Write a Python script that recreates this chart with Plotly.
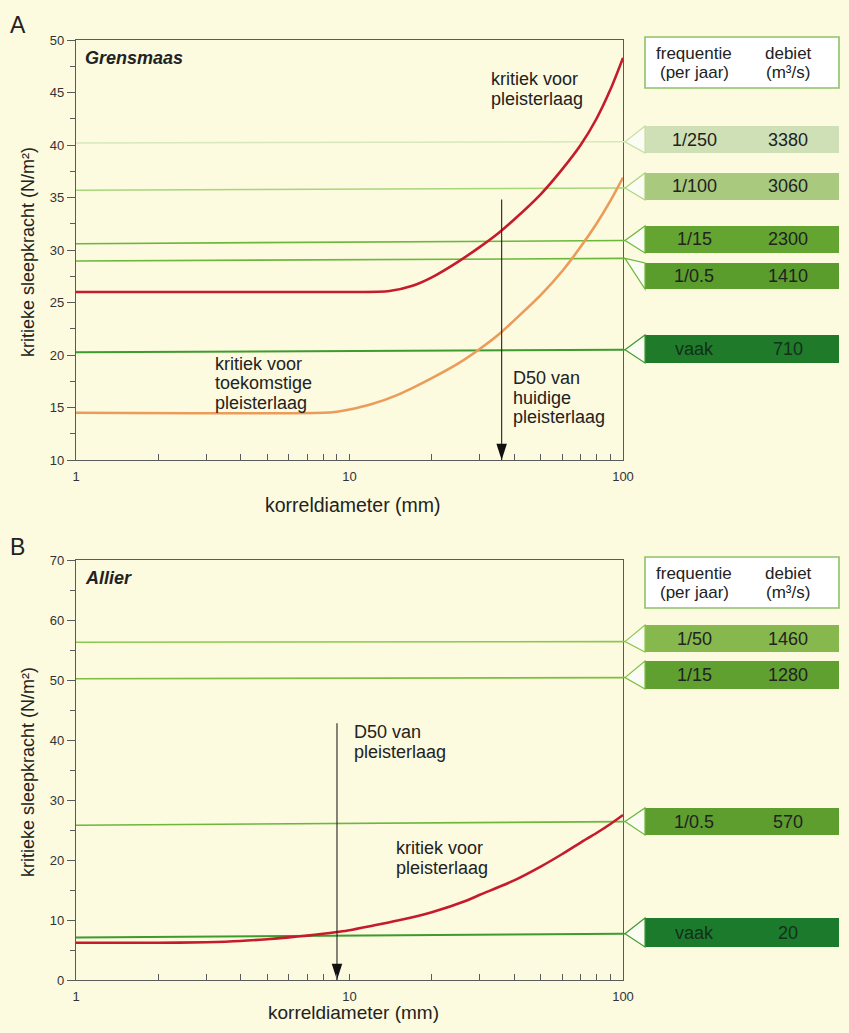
import math
import plotly.graph_objects as go

# ---------------- data ----------------
# Panel A (Grensmaas)
a_red_x = [1, 5, 10, 14, 17, 20, 25, 30, 35, 40, 50, 60, 70, 80, 90, 100]
a_red_y = [26.0, 26.0, 26.0, 26.1, 26.6, 27.4, 28.9, 30.3, 31.6, 32.9, 35.3, 37.7, 40.0, 42.5, 45.3, 48.3]
a_orange_x = [1, 8, 9, 10, 12, 15, 20, 25, 30, 36, 40, 50, 60, 70, 80, 90, 100]
a_orange_y = [14.5, 14.5, 14.6, 14.8, 15.3, 16.2, 17.8, 19.2, 20.6, 22.2, 23.3, 25.7, 28.0, 30.3, 32.5, 34.7, 36.9]
a_freq = ["1/250", "1/100", "1/15", "1/0.5", "vaak"]
a_debiet = ["3380", "3060", "2300", "1410", "710"]
a_level_left = [40.2, 35.7, 30.6, 28.95, 20.25]
a_level_right = [40.3, 35.9, 30.9, 29.2, 20.5]
a_d50 = 36
a_d50_top = 34.8

# Panel B (Allier)
b_red_x = [1, 2, 3, 4, 5, 6, 7, 8, 9, 10, 12, 15, 20, 27, 30, 40, 50, 60, 70, 80, 90, 100]
b_red_y = [6.2, 6.2, 6.3, 6.5, 6.8, 7.1, 7.4, 7.7, 8.0, 8.3, 9.0, 9.9, 11.3, 13.3, 14.2, 16.6, 18.9, 21.0, 22.9, 24.5, 26.0, 27.5]
b_freq = ["1/50", "1/15", "1/0.5", "vaak"]
b_debiet = ["1460", "1280", "570", "20"]
b_level_left = [56.3, 50.2, 25.8, 7.1]
b_level_right = [56.4, 50.4, 26.4, 7.7]
b_d50 = 9
b_d50_top = 42.8

x_major = [1, 10, 100]
x_major_text = ["1", "10", "100"]
x_minor = [2, 3, 4, 5, 6, 7, 8, 9, 20, 30, 40, 50, 60, 70, 80, 90]

# ---------------- style / layout ----------------
PAGE_W, PAGE_H = 849, 1033
OFF = 8  # default page margin of the html body
W, H = PAGE_W - 2 * OFF, PAGE_H - 2 * OFF
BG = "#fcfadf"
FONT = "Liberation Sans, Arial, sans-serif"
TXT = "#222222"
AX = "#5a5a5a"

def px(x):
    return (x - OFF) / W

def py(y):
    return 1 - (y - OFF) / H

domA_x = [px(76), px(623)]
domA_y = [py(460), py(40)]
domB_y = [py(980), py(560)]
rangeA = [10, 50]
rangeB = [0, 70]

a_line_colors = ["#d6e9bd", "#a9d57c", "#6cb73c", "#6cb73c", "#3f9a2f"]
a_line_widths = [1.5, 1.5, 1.6, 1.6, 2.0]
a_box_colors = ["#cfe0b7", "#a8c97e", "#63a530", "#5b9d2d", "#1f7a2a"]
a_box_pix = [(126, 153), (173, 200), (226, 253), (263, 289), (335, 363)]
b_line_colors = ["#8cc850", "#7cbf40", "#6cb73c", "#3f9a2f"]
b_line_widths = [1.6, 1.6, 1.6, 2.0]
b_box_colors = ["#86b84d", "#5fa030", "#5e9e2e", "#1c7a2c"]
b_box_pix = [(625, 652), (661, 689), (808, 835), (918, 947)]

fig = go.Figure()

def add_panel(xa, ya, levels_l, levels_r, lcolors, lwidths, curves, d50, d50_top, ybottom):
    for vl, vr, c, w in zip(levels_l, levels_r, lcolors, lwidths):
        fig.add_trace(go.Scatter(x=[1, 100], y=[vl, vr], mode="lines",
                                 line=dict(color=c, width=w), xaxis=xa, yaxis=ya,
                                 hoverinfo="skip", showlegend=False, cliponaxis=False))
    for cx, cy, col in curves:
        fig.add_trace(go.Scatter(x=cx, y=cy, mode="lines",
                                 line=dict(color=col, width=2.6, shape="spline", smoothing=0.8),
                                 xaxis=xa, yaxis=ya, hoverinfo="skip", showlegend=False))
    fig.add_trace(go.Scatter(x=[d50, d50], y=[d50_top, ybottom], mode="lines",
                             line=dict(color="#222", width=1.1), xaxis=xa, yaxis=ya,
                             hoverinfo="skip", showlegend=False))
    fig.add_trace(go.Scatter(x=[d50], y=[ybottom], mode="markers",
                             marker=dict(symbol="arrow", angle=180, size=17, color="#111",
                                         line=dict(width=0)),
                             xaxis=xa, yaxis=ya, hoverinfo="skip", showlegend=False, cliponaxis=False))

add_panel("x", "y", a_level_left, a_level_right, a_line_colors, a_line_widths,
          [(a_orange_x, a_orange_y, "#eb9c5a"), (a_red_x, a_red_y, "#c51b2b")], a_d50, a_d50_top, 10)
add_panel("x2", "y2", b_level_left, b_level_right, b_line_colors, b_line_widths,
          [(b_red_x, b_red_y, "#c51b2b")], b_d50, b_d50_top, 0)

xaxis_common = dict(type="log", range=[0, 2], tickvals=x_major, ticktext=x_major_text,
                    ticks="inside", ticklen=6, tickwidth=1.1, tickcolor=AX,
                    minor=dict(tickvals=x_minor, ticks="inside", ticklen=6, tickwidth=1.1,
                               tickcolor=AX, showgrid=False),
                    showline=True, linecolor=AX, linewidth=1.3, mirror=True,
                    showgrid=False, zeroline=False,
                    tickfont=dict(family=FONT, size=13, color="#333"), ticklabelstandoff=4)
fig.update_layout(
    width=W, height=H, margin=dict(l=0, r=0, t=0, b=0, autoexpand=False),
    paper_bgcolor=BG, plot_bgcolor=BG, showlegend=False,
    xaxis=dict(domain=domA_x, anchor="y", **xaxis_common),
    xaxis2=dict(domain=domA_x, anchor="y2", **xaxis_common),
    yaxis=dict(domain=domA_y, anchor="x", range=rangeA, tick0=10, dtick=5,
               ticks="outside", ticklen=8, tickwidth=1.1, tickcolor=AX,
               minor=dict(tick0=10, dtick=2.5, ticks="outside", ticklen=5, tickcolor=AX, tickwidth=1.1),
               showline=True, linecolor=AX, linewidth=1.3, mirror=True,
               showgrid=False, zeroline=False,
               tickfont=dict(family=FONT, size=13, color="#333")),
    yaxis2=dict(domain=domB_y, anchor="x2", range=rangeB, tick0=0, dtick=10,
                ticks="outside", ticklen=8, tickwidth=1.1, tickcolor=AX,
                minor=dict(tick0=0, dtick=5, ticks="outside", ticklen=5, tickcolor=AX, tickwidth=1.1),
                showline=True, linecolor=AX, linewidth=1.3, mirror=True,
                showgrid=False, zeroline=False,
                tickfont=dict(family=FONT, size=13, color="#333")),
)

def yval_to_paper(v, rng, dom):
    return dom[0] + (v - rng[0]) / (rng[1] - rng[0]) * (dom[1] - dom[0])

shapes = []
annos = []

def text(x, y, s, size=18, anchor="left", bold=False, italic=False, color=TXT):
    if bold:
        s = "<b>" + s + "</b>"
    if italic:
        s = "<i>" + s + "</i>"
    annos.append(dict(x=px(x), y=py(y), xref="paper", yref="paper", text=s, showarrow=False,
                      xanchor=anchor, yanchor="middle", borderpad=0,
                      font=dict(family=FONT, size=size, color=color)))

def lines_text(x, y0, items, spacing=19.5, size=18, anchor="left"):
    for i, s in enumerate(items):
        text(x, y0 + i * spacing, s, size=size, anchor=anchor)

TIP_X, BOX_L, BOX_R = 625, 645, 839
COL1, COL2 = 694, 788

def table(header_top, header_bot, freqs, debs, levels_r, colors, boxpix, lcolors, rng, dom):
    shapes.append(dict(type="rect", xref="paper", yref="paper", x0=px(BOX_L), x1=px(BOX_R),
                       y0=py(header_bot), y1=py(header_top), fillcolor="white",
                       line=dict(color="#8dc26a", width=1.6)))
    hy = (header_top + header_bot) / 2
    text(COL1, hy - 9, "frequentie", size=17, anchor="center")
    text(COL1, hy + 10, "(per jaar)", size=17, anchor="center")
    text(COL2, hy - 9, "debiet", size=17, anchor="center")
    text(COL2, hy + 10, "(m³/s)", size=17, anchor="center")
    for f, d, v, c, (t, b), lc in zip(freqs, debs, levels_r, colors, boxpix, lcolors):
        tip_y = yval_to_paper(v, rng, dom)
        shapes.append(dict(type="rect", xref="paper", yref="paper", x0=px(BOX_L), x1=px(BOX_R),
                           y0=py(b), y1=py(t), fillcolor=c, line=dict(width=0)))
        path = "M %f %f L %f %f L %f %f Z" % (px(TIP_X), tip_y, px(BOX_L), py(t), px(BOX_L), py(b))
        shapes.append(dict(type="path", xref="paper", yref="paper", path=path,
                           fillcolor="#fbfdf4", line=dict(color=lc if lc != "#d6e9bd" else "#c3dfa3", width=1.2)))
        shapes.append(dict(type="line", xref="paper", yref="paper", x0=px(623), x1=px(TIP_X),
                           y0=tip_y, y1=tip_y, line=dict(color=lc, width=1.5)))
        tc = "#13301a" if f == "vaak" else TXT
        text(COL1, (t + b) / 2, f, anchor="center", color=tc)
        text(COL2, (t + b) / 2, d, anchor="center", color=tc)

table(37, 88, a_freq, a_debiet, a_level_right, a_box_colors, a_box_pix, a_line_colors, rangeA, domA_y)
table(557, 608, b_freq, b_debiet, b_level_right, b_box_colors, b_box_pix, b_line_colors, rangeB, domB_y)

# panel letters and titles
text(9, 25, "A", size=23)
text(9, 547, "B", size=23)
text(84, 58, "Grensmaas", size=18, bold=True, italic=True)
text(84, 578, "Allier", size=18, bold=True, italic=True)

# axis titles
text(353, 505, "korreldiameter (mm)", size=19.5, anchor="center")
text(353, 1012, "korreldiameter (mm)", size=19, anchor="center")
for cy in (252, 772):
    annos.append(dict(x=px(28), y=py(cy), xref="paper", yref="paper",
                      text="kritieke sleepkracht (N/m²)", showarrow=False, textangle=-90,
                      xanchor="center", yanchor="middle", borderpad=0,
                      font=dict(family=FONT, size=18, color=TXT)))

# curve labels
lines_text(490, 79, ["kritiek voor", "pleisterlaag"])
lines_text(214, 364, ["kritiek voor", "toekomstige", "pleisterlaag"])
lines_text(512, 378, ["D50 van", "huidige", "pleisterlaag"])
lines_text(353, 732, ["D50 van", "pleisterlaag"])
lines_text(395, 848, ["kritiek voor", "pleisterlaag"])

fig.update_layout(shapes=shapes, annotations=annos)
fig.write_html("out.html", config={"displayModeBar": False},
               post_script="document.body.style.background='%s';" % BG)
